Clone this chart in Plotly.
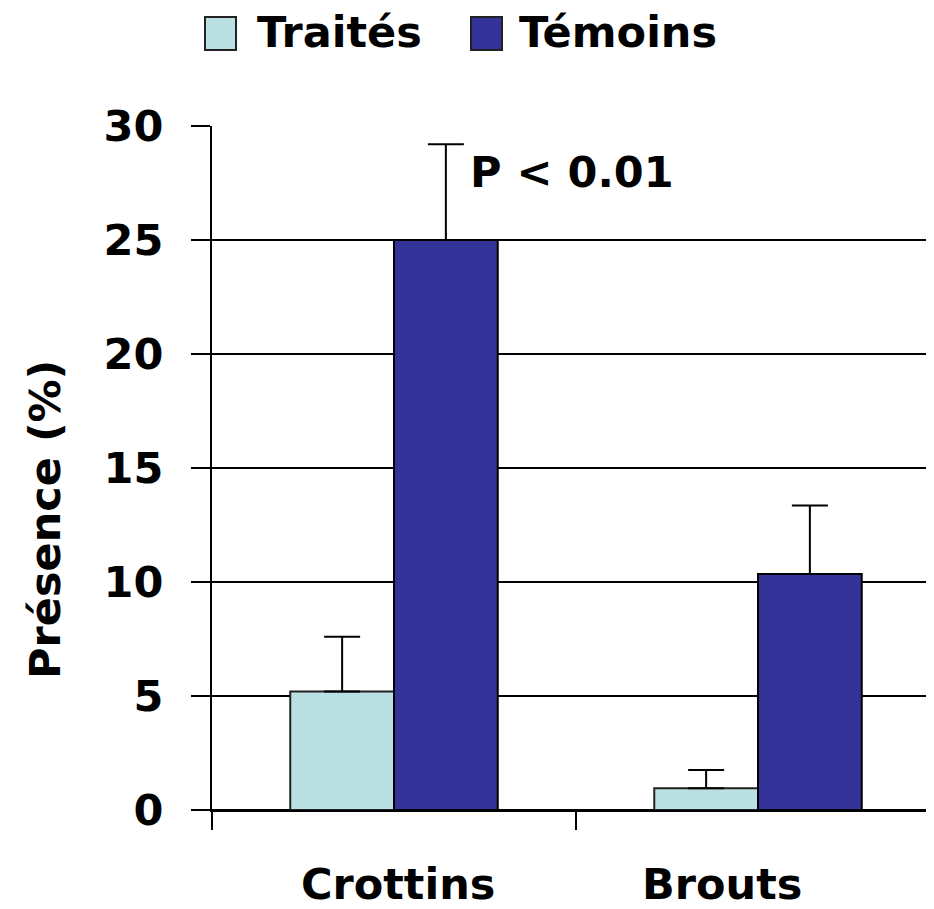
import plotly.graph_objects as go

# data
categories = ["Crottins", "Brouts"]
traites = [5.2, 0.95]
traites_err = [2.4, 0.8]
temoins = [25.0, 10.35]
temoins_err = [4.2, 3.0]
y_ticks = [0, 5, 10, 15, 20, 25, 30]

FONT = dict(family="DejaVu Sans", size=43, color="black", weight="bold")
C_TRAITES = "#BBE0E3"
C_TEMOINS = "#333399"

fig = go.Figure()
fig.add_trace(go.Bar(
    x=categories, y=traites, name="Traités",
    marker=dict(color=C_TRAITES, line=dict(color="#222222", width=2)),
    error_y=dict(type="data", array=traites_err, arrayminus=[0, 0], symmetric=False,
                 color="black", thickness=2, width=18),
))
fig.add_trace(go.Bar(
    x=categories, y=temoins, name="Témoins",
    marker=dict(color=C_TEMOINS, line=dict(color="black", width=2)),
    error_y=dict(type="data", array=temoins_err, arrayminus=[0, 0], symmetric=False,
                 color="black", thickness=2, width=18),
))

# page body adds 8px, so the figure sits 8px off; plot area 212..934 x 126..810 on screen
OFF = 8
FW, FH = 934 - OFF, 909 - OFF
L, T, W, H = 212 - OFF, 126 - OFF, 934 - 212, 684
CAT = 364  # px per category


def px(x):
    return (x - OFF - L) / W


def py(y):
    return (T + H - (y - OFF)) / H


# hand-made legend (big squares like the original)
for name, color, x0, gap in [("Traités", C_TRAITES, 205, 50), ("Témoins", C_TEMOINS, 471, 46)]:
    fig.add_shape(type="rect", xref="paper", yref="paper",
                  x0=px(x0), x1=px(x0 + 31), y0=py(50), y1=py(17),
                  fillcolor=color, line=dict(color="#222222", width=2))
    fig.add_annotation(text=name, xref="paper", yref="paper",
                       x=px(x0 + gap), y=py(32), xanchor="left", yanchor="middle",
                       showarrow=False, font=FONT)

fig.add_annotation(text="P < 0.01", xref="paper", yref="paper",
                   x=px(468), y=py(172), xanchor="left", yanchor="middle",
                   showarrow=False, font=FONT)

fig.add_annotation(text="Présence (%)", xref="paper", yref="paper",
                   x=px(45), y=py(520), textangle=-90,
                   xanchor="center", yanchor="middle",
                   showarrow=False, font=FONT)

# category labels (the second one sits left of its category centre in the original)
for cat, shift in zip(categories, [4, -36]):
    fig.add_annotation(text=cat, xref="x", yref="paper", x=cat, y=py(884),
                       xshift=shift, xanchor="center", yanchor="middle",
                       showarrow=False, font=FONT)

fig.update_layout(
    width=FW, height=FH,
    margin=dict(l=L, r=0, t=T, b=FH - T - H),
    plot_bgcolor="white", paper_bgcolor="white",
    barmode="group", bargap=0.43, bargroupgap=0,
    showlegend=False,
    font=FONT,
)
fig.update_xaxes(
    range=[-0.5, -0.5 + W / CAT], tickson="boundaries",
    ticks="outside", ticklen=18, tickwidth=2, tickcolor="black",
    showline=True, linecolor="black", linewidth=2,
    showgrid=False, showticklabels=False,
)
fig.update_yaxes(
    range=[0, 30], tickvals=y_ticks,
    ticks="outside", ticklen=19, tickwidth=2, tickcolor="black",
    showline=True, linecolor="black", linewidth=2,
    showgrid=True, gridcolor="black", gridwidth=2,
    zeroline=True, zerolinecolor="black", zerolinewidth=2,
    tickfont=FONT, ticklabelstandoff=19,
)

fig.write_html("out.html")
